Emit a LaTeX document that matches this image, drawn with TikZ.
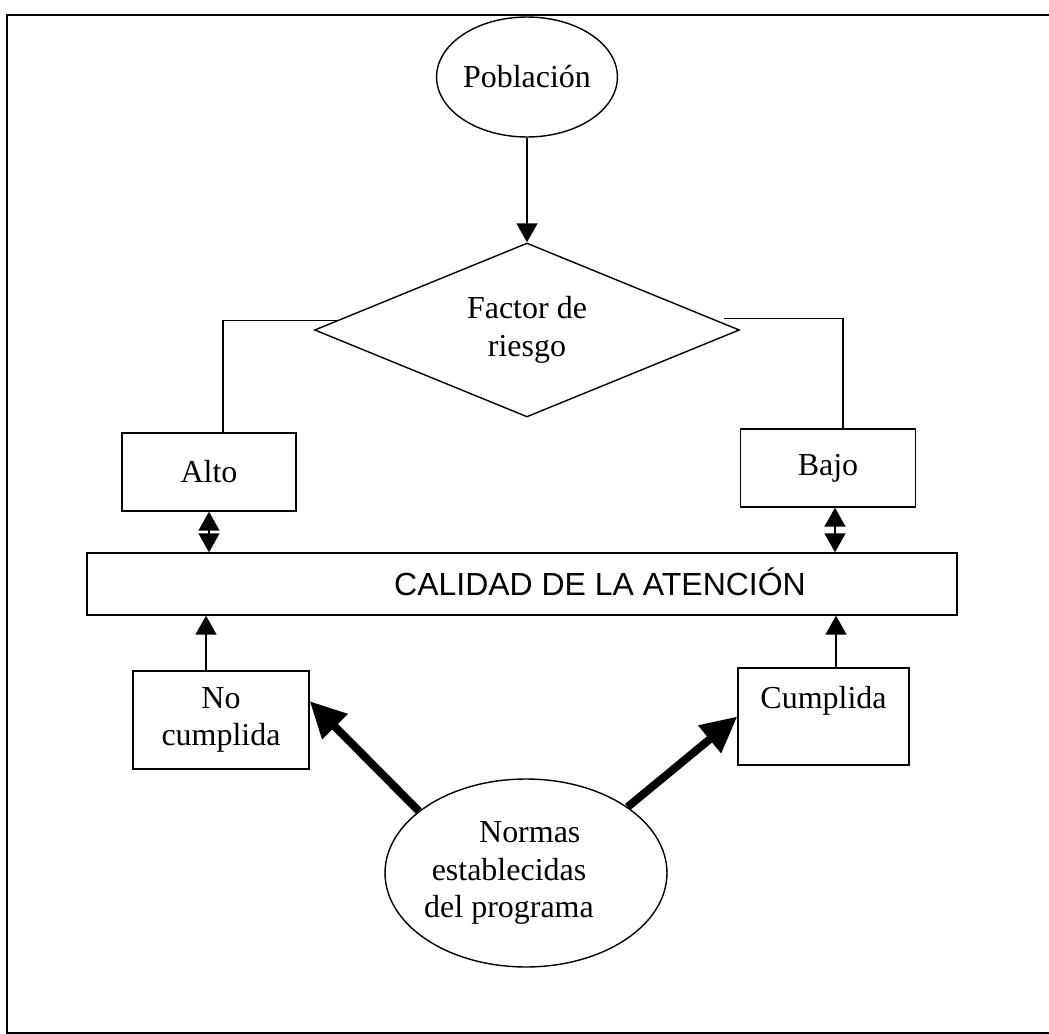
\documentclass[tikz,border=0pt]{standalone}
\usepackage{fontspec}
\setmainfont{Liberation Serif}
\setsansfont{Liberation Sans}
\usetikzlibrary{calc,arrows.meta,shapes.geometric}
\tikzset{
	caja/.style={draw, line width=0.8pt, inner sep=0pt, align=center},
	elipse/.style={draw, ellipse, line width=0.8pt, inner sep=0pt, align=center},
	flecha/.style={line width=0.8pt, -{Triangle[length=0.38cm,width=0.42cm]}},
	dobleflecha/.style={line width=0.8pt, {Triangle[length=0.38cm,width=0.42cm]}-{Triangle[length=0.38cm,width=0.42cm]}},
	gruesa/.style={line width=0.16cm, -{Triangle[length=0.72cm,width=0.68cm]}},
}

\begin{document}
\begin{tikzpicture}[x=0.02cm, y=-0.02cm, font=\fontsize{18.2}{21.5}\selectfont]
		\useasboundingbox (0,0) rectangle (1049,1034);
		\clip (0,0) rectangle (1049,1034);
		%%%%% START %%%%%
		\draw[line width=0.9pt] (7,15) rectangle (1070,1033);
		
		\node[elipse, minimum width=3.12cm, minimum height=2.4cm] (pob) at (527,77) {Población};
		\node[diamond, draw, line width=0.8pt, inner sep=0pt, aspect=2.44, minimum width=8.5cm, minimum height=3.48cm, align=center] (fac) at (527,330) {\raisebox{-0.3em}{Factor de}\\\raisebox{-0.3em}{riesgo}};
		\draw[flecha] (pob) -- (fac);
		
		\node[caja, minimum width=3.48cm, minimum height=1.56cm] (alto) at (209,472) {Alto};
		\node[caja, minimum width=3.5cm, minimum height=1.56cm] (bajo) at (828,468) {Bajo};
		\draw[line width=0.8pt] ($(fac.west)!0.11!(fac.north)$) -| ([xshift=0.28cm]alto.north);
		\draw[line width=0.8pt] ($(fac.east)!0.13!(fac.north)+(12,0)$) -| ([xshift=0.3cm]bajo.north);
		
		\node[caja, minimum width=17.4cm, minimum height=1.24cm] (cal) at (522,584) {};
		\node[font=\sffamily\fontsize{18.2}{21.5}\selectfont] (caltxt) at (600,582) {CALIDAD DE LA ATENCIÓN};
		\draw[dobleflecha] (alto.south) -- (alto.south |- cal.north);
		\draw[dobleflecha] ([xshift=0.14cm]bajo.south) -- ([xshift=0.14cm]bajo.south |- cal.north);
		
		\node[caja, minimum width=3.52cm, minimum height=1.96cm] (nocum) at (221,720) {No\\cumplida};
		\node[caja, minimum width=3.42cm, minimum height=1.94cm] (cum) at (823.5,716.5) {Cumplida\\ \mbox{}};
		\draw[flecha] ([xshift=-0.3cm]nocum.north) -- ([xshift=-0.3cm]nocum.north |- cal.south);
		\draw[flecha] ([xshift=0.25cm]cum.north) -- ([xshift=0.25cm]cum.north |- cal.south);
		
		\node[elipse, minimum width=5.64cm, minimum height=3.76cm, label={[align=center, xshift=-0.34cm]center:{\hspace*{1.3em}Normas\\establecidas\\del programa}}] (normas) at (526,873) {};
		\draw[gruesa] (normas.150) -- (nocum.12);
		\draw[gruesa] (normas.33) -- (cum.west);
		%%%%% END %%%%%
	\end{tikzpicture}
\end{document}
